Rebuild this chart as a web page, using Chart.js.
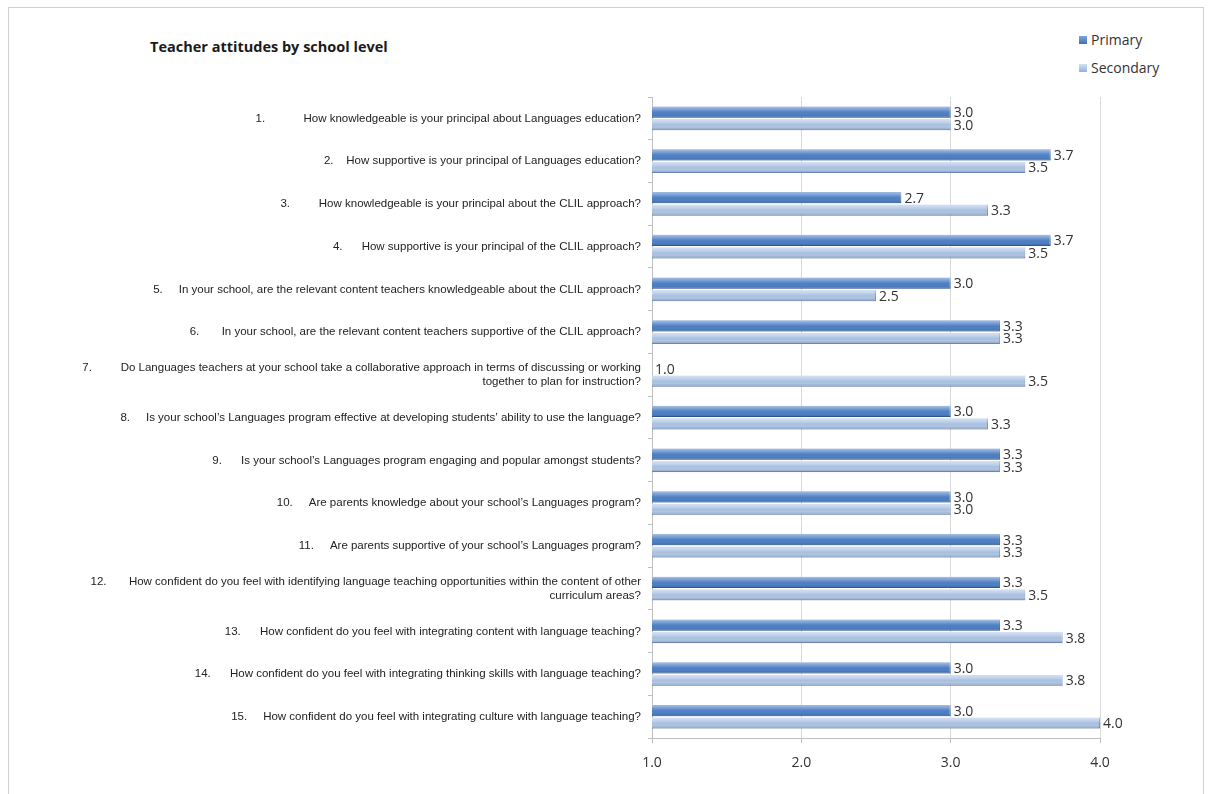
<!DOCTYPE html>
<html>
<head>
<meta charset="utf-8">
<script src="https://cdn.jsdelivr.net/npm/chart.js@4.4.1/dist/chart.umd.min.js"></script>
<style>
  body { margin: 0; background: #fff; }
  #wrap { position: relative; width: 1210px; height: 794px; }
  #frame { position: absolute; left: 8px; top: 7px; width: 1196px; height: 800px; border: 1px solid #d0d0d0; box-sizing: border-box; }
  #title { position: absolute; left: 150px; top: 37px; font: bold 14.5px "Open Sans", sans-serif; color: #1a1a1a; }
  #legend { position: absolute; left: 1079px; top: 30px; font: 14px "Open Sans", sans-serif; color: #333; }
  #legend div { height: 28px; line-height: 19px; }
  #legend span { display: inline-block; width: 8px; height: 8px; margin-right: 4px; vertical-align: 1px; }
  canvas { position: absolute; left: 0; top: 0; }
</style>
</head>
<body>
<div id="wrap">
  <div id="frame"></div>
  <div id="title">Teacher attitudes by school level</div>
  <div id="legend">
    <div><span style="background:linear-gradient(#7fa5da,#3f70b5)"></span>Primary</div>
    <div><span style="background:linear-gradient(#d3e0f2,#94b1dc)"></span>Secondary</div>
  </div>
  <canvas id="barChart" width="1210" height="794"></canvas>
</div>
<script>
// question labels (number + text), long ones split in two lines
const questions = [
  "1.            How knowledgeable is your principal about Languages education?",
  "2.    How supportive is your principal of Languages education?",
  "3.         How knowledgeable is your principal about the CLIL approach?",
  "4.      How supportive is your principal of the CLIL approach?",
  "5.     In your school, are the relevant content teachers knowledgeable about the CLIL approach?",
  "6.       In your school, are the relevant content teachers supportive of the CLIL approach?",
  ["7.         Do Languages teachers at your school take a collaborative approach in terms of discussing or working", "together to plan for instruction?"],
  "8.     Is your school’s Languages program effective at developing students’ ability to use the language?",
  "9.      Is your school’s Languages program engaging and popular amongst students?",
  "10.     Are parents knowledge about your school’s Languages program?",
  "11.     Are parents supportive of your school’s Languages program?",
  ["12.       How confident do you feel with identifying language teaching opportunities within the content of other", "curriculum areas?"],
  "13.      How confident do you feel with integrating content with language teaching?",
  "14.      How confident do you feel with integrating thinking skills with language teaching?",
  "15.     How confident do you feel with integrating culture with language teaching?"
]

const primary = [3.0, 3.67, 2.67, 3.67, 3.0, 3.33, 1.0, 3.0, 3.33, 3.0, 3.33, 3.33, 3.33, 3.0, 3.0]
const secondary = [3.0, 3.5, 3.25, 3.5, 2.5, 3.33, 3.5, 3.25, 3.33, 3.0, 3.33, 3.5, 3.75, 3.75, 4.0]

const xTicks = [1, 2, 3, 4]

// shade the bars a bit like the old office 3d style
const shadePlugin = {
  id: 'shade',
  afterDatasetsDraw(chart) {
    const ctx = chart.ctx
    const left = chart.chartArea.left
    chart.data.datasets.forEach((ds, i) => {
      chart.getDatasetMeta(i).data.forEach((bar) => {
        const x0 = Math.max(bar.base, left)
        const w = bar.x - x0
        if (w <= 0) return
        const top = bar.y - bar.height / 2
        const g = ctx.createLinearGradient(0, top, 0, top + bar.height)
        g.addColorStop(0, 'rgba(255,255,255,0.5)')
        g.addColorStop(0.35, 'rgba(255,255,255,0.15)')
        g.addColorStop(0.7, 'rgba(0,0,0,0)')
        g.addColorStop(1, 'rgba(0,0,40,0.18)')
        ctx.save()
        ctx.fillStyle = g
        ctx.fillRect(x0, top, w, bar.height)
        ctx.restore()
      })
    })
  }
}

const valueLabels = {
  id: 'valueLabels',
  afterDatasetsDraw(chart) {
    const ctx = chart.ctx
    ctx.save()
    ctx.font = '14px "Open Sans", sans-serif'
    ctx.fillStyle = '#333'
    ctx.textAlign = 'left'
    ctx.textBaseline = 'middle'
    chart.data.datasets.forEach((ds, i) => {
      chart.getDatasetMeta(i).data.forEach((bar, j) => {
        ctx.fillText(ds.data[j].toFixed(1), bar.x + 3, bar.y + 1)
      })
    })
    ctx.restore()
  }
}

let ctx = document.getElementById('barChart').getContext('2d')
let myChart = new Chart(ctx, {
  type: 'bar',
  data: {
    labels: questions,
    datasets: [
      {
        label: 'Primary',
        data: primary,
        backgroundColor: '#4f81c7',
        borderColor: '#3a67a6',
        borderWidth: { top: 0, bottom: 1, right: 1, left: 0 },
        borderSkipped: false,
        categoryPercentage: 0.58,
        barPercentage: 0.9
      },
      {
        label: 'Secondary',
        data: secondary,
        backgroundColor: '#afc6e6',
        borderColor: '#7e9cc8',
        borderWidth: { top: 0, bottom: 1, right: 1, left: 0 },
        borderSkipped: false,
        categoryPercentage: 0.58,
        barPercentage: 0.9
      }
    ]
  },
  options: {
    indexAxis: 'y',
    responsive: false,
    animation: false,
    layout: { padding: { top: 97, right: 110, bottom: 12, left: 0 } },
    plugins: {
      legend: { display: false },
      tooltip: { enabled: false }
    },
    scales: {
      x: {
        min: 1,
        max: 4,
        afterBuildTicks(scale) { scale.ticks = xTicks.map(v => ({ value: v })) },
        grid: { color: '#d9d9d9', tickLength: 5, tickColor: '#bfbfbf' },
        border: { color: '#bfbfbf' },
        ticks: {
          color: '#333',
          font: { family: 'Open Sans', size: 14 },
          padding: 11,
          callback: v => Number(v).toFixed(1)
        }
      },
      y: {
        afterFit(scale) { scale.width = 652 },
        grid: { drawOnChartArea: false, tickLength: 4, tickColor: '#bfbfbf' },
        border: { color: '#bfbfbf' },
        ticks: {
          color: '#222',
          font: { family: 'Liberation Sans', size: 11.5 },
          padding: 7,
          autoSkip: false
        }
      }
    }
  },
  plugins: [shadePlugin, valueLabels]
})
</script>
</body>
</html>
